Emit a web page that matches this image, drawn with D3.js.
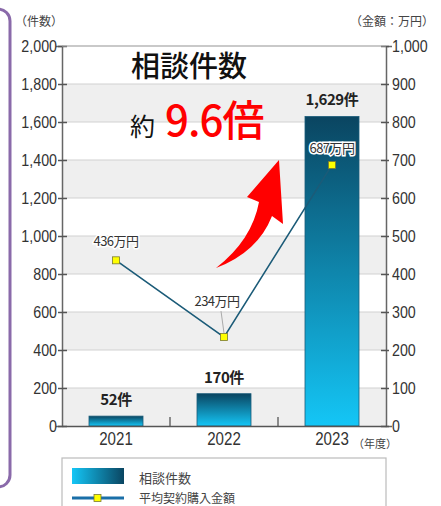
<!DOCTYPE html>
<html>
<head>
<meta charset="utf-8">
<script src="https://cdn.jsdelivr.net/npm/d3@7"></script>
<style>
  body { margin: 0; background: #fff; }
  svg { display: block; font-family: "Noto Sans CJK JP", "Noto Sans", sans-serif; }
</style>
</head>
<body>
<div class="container"></div>
<script>
const WIDTH = 441;
const HEIGHT = 506;
const LEFT = 62, RIGHT = 386, TOP = 46, BOTTOM = 426;
const SQUEEZE = 0.84;

var years = ["2021", "2022", "2023"];
var counts = [52, 170, 1629];
var amounts = [436, 234, 687];
var countLabels = ["52件", "170件", "1,629件"];
var amountLabels = ["436万円", "234万円", "687万円"];
var leftTicks = [0, 200, 400, 600, 800, 1000, 1200, 1400, 1600, 1800, 2000];
var rightTicks = [0, 100, 200, 300, 400, 500, 600, 700, 800, 900, 1000];

var svg = d3.select('.container').append('svg')
    .attr('width', WIDTH)
    .attr('height', HEIGHT);

var defs = svg.append('defs');
var gv = defs.append('linearGradient').attr('id', 'barGrad')
    .attr('x1', 0).attr('y1', 0).attr('x2', 0).attr('y2', 1);
gv.append('stop').attr('offset', '0%').attr('stop-color', '#0a4561');
gv.append('stop').attr('offset', '100%').attr('stop-color', '#14c6f6');
var gh = defs.append('linearGradient').attr('id', 'legGrad')
    .attr('x1', 0).attr('y1', 0).attr('x2', 1).attr('y2', 0);
gh.append('stop').attr('offset', '0%').attr('stop-color', '#14c6f6');
gh.append('stop').attr('offset', '100%').attr('stop-color', '#0a4561');

// purple frame on the left
svg.append('rect')
    .attr('x', -100).attr('y', 9).attr('width', 110).attr('height', 478)
    .attr('rx', 12)
    .attr('fill', 'none').attr('stroke', '#8a6aaa').attr('stroke-width', 3);

var x = d3.scaleBand().domain(years).range([LEFT, RIGHT])
    .paddingInner(0.5).paddingOuter(0.25);
var yL = d3.scaleLinear().domain([0, 2000]).range([BOTTOM, TOP]);
var yR = d3.scaleLinear().domain([0, 1000]).range([BOTTOM, TOP]);

// bands
svg.append('g').selectAll('rect')
    .data(leftTicks.slice(0, -1).filter(function(d, i) { return i % 2 === 0; }))
    .enter().append('rect')
    .attr('x', LEFT).attr('width', RIGHT - LEFT)
    .attr('y', function(d) { return yL(d + 200); })
    .attr('height', function(d) { return yL(d) - yL(d + 200); })
    .attr('fill', '#efefef');

// grid
svg.append('g').selectAll('line')
    .data(leftTicks.slice(1))
    .enter().append('line')
    .attr('x1', LEFT).attr('x2', RIGHT)
    .attr('y1', yL).attr('y2', yL)
    .attr('stroke', '#d2d2d2').attr('stroke-width', 1.2);

// narrow-looking numbers: squeeze horizontally, keep the anchor point
function squeeze(sel, xPos) {
    sel.attr('x', xPos / SQUEEZE).attr('transform', 'scale(' + SQUEEZE + ',1)');
}

// left axis
var gl = svg.append('g')
    .attr('transform', 'translate(' + LEFT + ',0)')
    .call(d3.axisLeft(yL).tickValues(leftTicks).tickSize(6).tickPadding(5)
        .tickFormat(d3.format(',')));
gl.select('.domain').attr('stroke', '#666').attr('stroke-width', 1.5);
gl.selectAll('.tick line').attr('x1', -4).attr('x2', 5).attr('stroke', '#555').attr('stroke-width', 1.5);
gl.selectAll('.tick text').attr('font-size', 17).attr('fill', '#333').call(squeeze, -5);

// right axis
var gr = svg.append('g')
    .attr('transform', 'translate(' + RIGHT + ',0)')
    .call(d3.axisRight(yR).tickValues(rightTicks).tickSize(6).tickPadding(5)
        .tickFormat(d3.format(',')));
gr.select('.domain').attr('stroke', '#666').attr('stroke-width', 1.5);
gr.selectAll('.tick line').attr('x1', -5).attr('x2', 3).attr('stroke', '#555').attr('stroke-width', 1.5);
gr.selectAll('.tick text').attr('font-size', 17).attr('fill', '#333').call(squeeze, 6);

// bars
svg.append('g').selectAll('rect')
    .data(counts)
    .enter().append('rect')
    .attr('x', function(d, i) { return x(years[i]); })
    .attr('width', x.bandwidth())
    .attr('y', function(d) { return yL(d); })
    .attr('height', function(d) { return BOTTOM - yL(d); })
    .attr('fill', 'url(#barGrad)')
    .attr('stroke', '#1a5c7a').attr('stroke-width', 0.8);

// bottom axis
var gb = svg.append('g')
    .attr('transform', 'translate(0,' + BOTTOM + ')')
    .call(d3.axisBottom(x).tickSize(0).tickPadding(6));
gb.select('.domain').attr('stroke', '#555').attr('stroke-width', 1.5);
gb.selectAll('.tick text').attr('font-size', 18).attr('fill', '#333').call(squeeze, 0);
gb.selectAll('.sep')
    .data(years.slice(1))
    .enter().append('line')
    .attr('x1', function(d) { return x(d) - x.step() * x.paddingInner() / 2; })
    .attr('x2', function(d) { return x(d) - x.step() * x.paddingInner() / 2; })
    .attr('y1', 0).attr('y2', -9)
    .attr('stroke', '#555').attr('stroke-width', 1.3);

// top frame
svg.append('line').attr('x1', LEFT).attr('x2', RIGHT).attr('y1', TOP).attr('y2', TOP)
    .attr('stroke', '#aaa').attr('stroke-width', 1.2);

// axis titles
svg.append('text').attr('x', 63).attr('y', 26).attr('text-anchor', 'end')
    .attr('font-size', 12).attr('fill', '#444').text('（件数）');
svg.append('text').attr('x', 434).attr('y', 26).attr('text-anchor', 'end')
    .attr('font-size', 12).attr('fill', '#444').text('（金額：万円）');
svg.append('text').attr('x', 353).attr('y', 448)
    .attr('font-size', 11).attr('fill', '#444').text('（年度）');

// bar labels
svg.append('g').selectAll('text')
    .data(counts)
    .enter().append('text')
    .attr('x', function(d, i) { return x(years[i]) + x.bandwidth() / 2; })
    .attr('y', function(d) { return yL(d) - 11; })
    .attr('text-anchor', 'middle')
    .attr('font-size', 15).attr('font-weight', 'bold').attr('fill', '#222')
    .attr('letter-spacing', -0.4)
    .text(function(d, i) { return countLabels[i]; });

// red arrow (decoration)
svg.append('path')
    .attr('d', 'M216,268 Q258,252 272,216 L283,224 L279,160 L247,197 L259,202 Q252,240 216,268 Z')
    .attr('fill', '#ff0000');

// line series
var line = d3.line()
    .x(function(d, i) { return x(years[i]) + x.bandwidth() / 2; })
    .y(function(d) { return yR(d); });
svg.append('path')
    .attr('d', line(amounts))
    .attr('fill', 'none').attr('stroke', '#1b5b78').attr('stroke-width', 1.6);

// leader for 2022 label
svg.append('line')
    .attr('x1', x(years[1]) + x.bandwidth() / 2 - 3).attr('y1', yR(amounts[1]) - 26)
    .attr('x2', x(years[1]) + x.bandwidth() / 2).attr('y2', yR(amounts[1]) - 4)
    .attr('stroke', '#aaa').attr('stroke-width', 1);

svg.append('g').selectAll('rect')
    .data(amounts)
    .enter().append('rect')
    .attr('x', function(d, i) { return x(years[i]) + x.bandwidth() / 2 - 3.5; })
    .attr('y', function(d) { return yR(d) - 3.5; })
    .attr('width', 7).attr('height', 7)
    .attr('fill', '#ffff00').attr('stroke', '#7a7a30').attr('stroke-width', 0.8);

var labelDx = [0, -7, 0];
var labelDy = [-14, -31, -12];
svg.append('g').selectAll('text')
    .data(amounts)
    .enter().append('text')
    .attr('x', function(d, i) { return x(years[i]) + x.bandwidth() / 2 + labelDx[i]; })
    .attr('y', function(d, i) { return yR(d) + labelDy[i]; })
    .attr('text-anchor', 'middle')
    .attr('font-size', 13).attr('fill', '#333')
    .attr('stroke', '#fff').attr('stroke-width', 3).attr('paint-order', 'stroke')
    .attr('letter-spacing', -0.5)
    .text(function(d, i) { return amountLabels[i]; });

// big title
svg.append('text').attr('x', 131).attr('y', 77)
    .attr('font-size', 29).attr('font-weight', 500).attr('fill', '#111').text('相談件数');
var t2 = svg.append('text').attr('x', 130).attr('y', 136);
t2.append('tspan').attr('font-size', 25).attr('fill', '#111').text('約');
t2.append('tspan').attr('dx', 10).attr('font-size', 42).attr('font-weight', 500)
    .attr('fill', '#ff0000').attr('letter-spacing', -1).text('9.6倍');

// legend
var leg = svg.append('g');
leg.append('rect').attr('x', 62).attr('y', 458).attr('width', 324).attr('height', 70)
    .attr('fill', '#fff').attr('stroke', '#bbb').attr('stroke-width', 1.2);
leg.append('rect').attr('x', 72).attr('y', 468).attr('width', 52).attr('height', 16)
    .attr('fill', 'url(#legGrad)');
leg.append('text').attr('x', 139).attr('y', 483).attr('font-size', 13).attr('fill', '#444')
    .text('相談件数');
leg.append('line').attr('x1', 72).attr('x2', 124).attr('y1', 498).attr('y2', 498)
    .attr('stroke', '#1a6fa8').attr('stroke-width', 3);
leg.append('rect').attr('x', 94).attr('y', 494.5).attr('width', 7).attr('height', 7)
    .attr('fill', '#ffff00').attr('stroke', '#7a7a30').attr('stroke-width', 0.8);
leg.append('text').attr('x', 139).attr('y', 503).attr('font-size', 12).attr('fill', '#444')
    .text('平均契約購入金額');
</script>
</body>
</html>
